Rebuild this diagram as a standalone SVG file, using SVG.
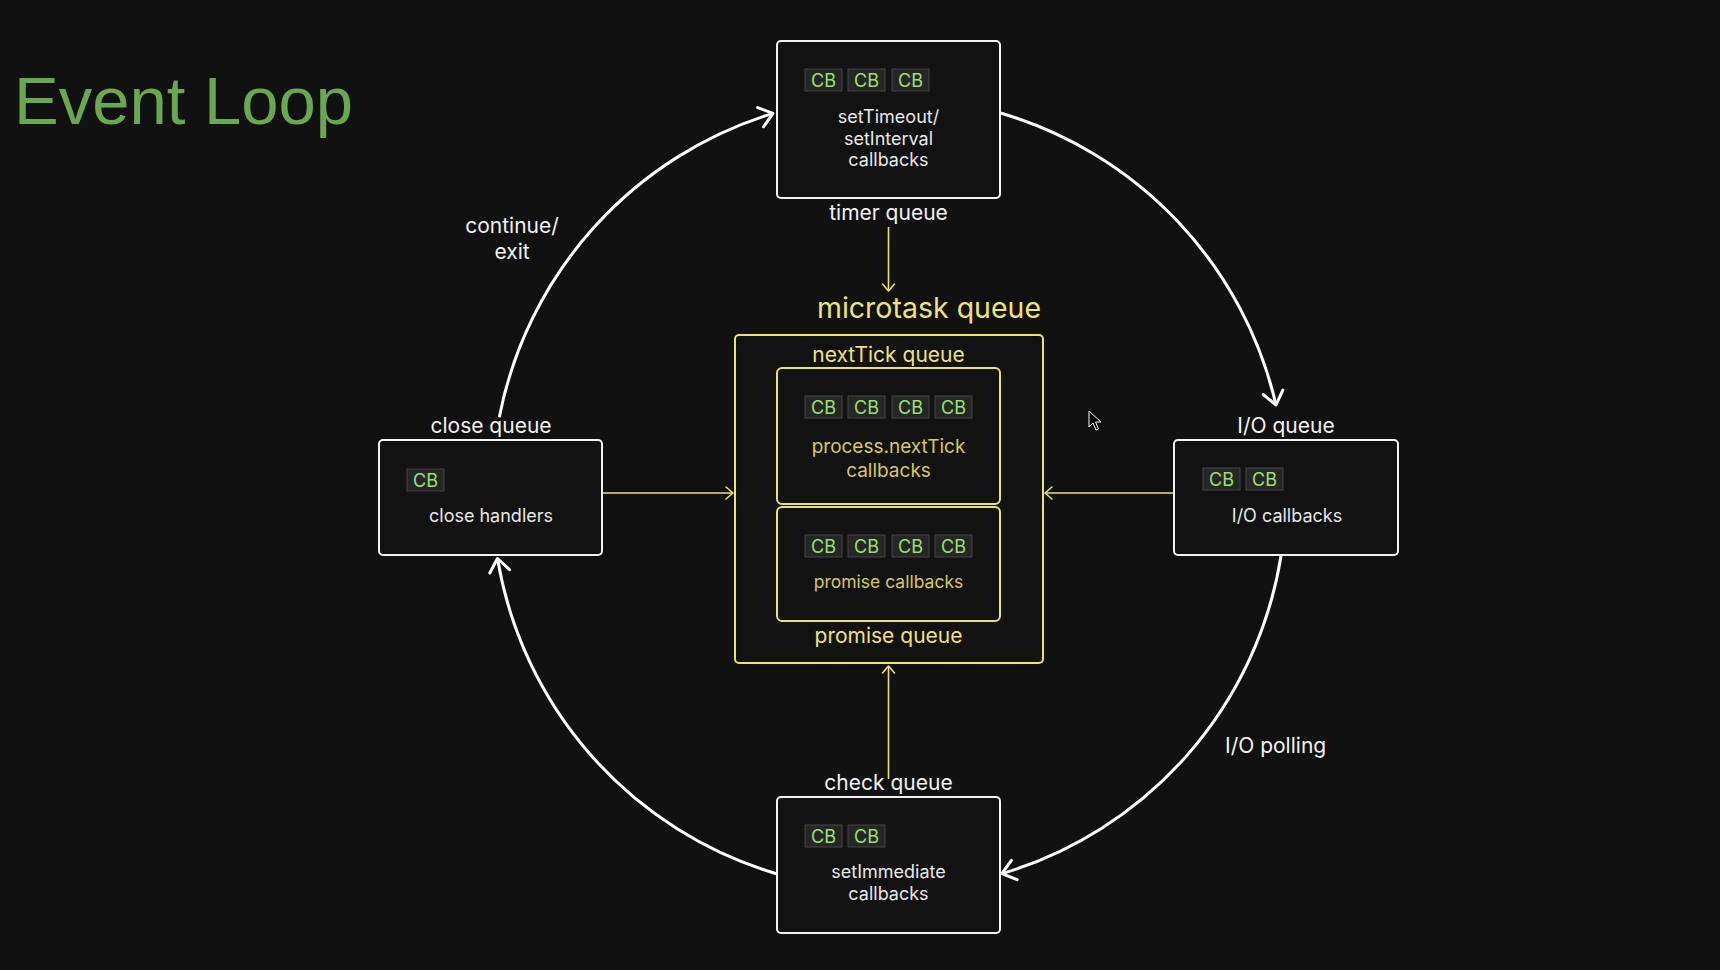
<svg xmlns="http://www.w3.org/2000/svg" width="1720" height="970" viewBox="0 0 1720 970">
<defs>
<style>
.bg{fill:#111111}
.box{fill:#121212;stroke:#f2f2f2;stroke-width:2}
.ybox{fill:#121212;stroke:#ece272;stroke-width:2}
.chip{fill:#262626;stroke:#454545;stroke-width:1}
.cb{font-family:Inter,"Liberation Sans",sans-serif;font-size:18px;fill:#9de06f;text-anchor:middle}
.lbl{font-family:Inter,"Liberation Sans",sans-serif;font-size:21px;fill:#f2f2f2;text-anchor:middle}
.txt{font-family:Inter,"Liberation Sans",sans-serif;font-size:18px;fill:#e8e8e8;text-anchor:middle}
.ylbl{font-family:Inter,"Liberation Sans",sans-serif;font-size:21px;fill:#f0e27a;text-anchor:middle}
.ytxt{font-family:Inter,"Liberation Sans",sans-serif;fill:#d8c85e;text-anchor:middle}
.arc{fill:none;stroke:#ffffff;stroke-width:3}
.yl{fill:none;stroke:#ece272;stroke-width:1.6}
</style>
<marker id="wa" viewBox="-16 -12 18 24" markerWidth="18" markerHeight="24" refX="0" refY="0" orient="auto" markerUnits="userSpaceOnUse">
<path d="M-13,-10 L0,0 L-13,10" fill="none" stroke="#ffffff" stroke-width="3" stroke-linecap="round" stroke-linejoin="round"/>
</marker>
<marker id="ya" viewBox="-10 -8 12 16" markerWidth="12" markerHeight="16" refX="0" refY="0" orient="auto" markerUnits="userSpaceOnUse">
<path d="M-7,-6 L0,0 L-7,6" fill="none" stroke="#ece272" stroke-width="1.6" stroke-linecap="round" stroke-linejoin="round"/>
</marker>
</defs>
<rect class="bg" x="0" y="0" width="1720" height="970"/>
<text x="14" y="124" font-family="Liberation Sans, Arial, sans-serif" font-size="67" fill="#6aa84f">Event Loop</text>

<g id="connectors">
<path class="arc" d="M1000.4,113 A397,397 0 0 1 1276,405" marker-end="url(#wa)"/>
<path class="arc" d="M1281,556 A397,397 0 0 1 1001.8,873.7" marker-end="url(#wa)"/>
<path class="arc" d="M776.2,873.7 A397,397 0 0 1 497.5,558.5" marker-end="url(#wa)"/>
<path class="arc" d="M499.3,417.2 A397,397 0 0 1 773,113.4" marker-end="url(#wa)"/>
<path class="yl" d="M888.5,227 L888.5,291" marker-end="url(#ya)"/>
<path class="yl" d="M602,493 L733,493" marker-end="url(#ya)"/>
<path class="yl" d="M1174,493 L1045,493" marker-end="url(#ya)"/>
<path class="yl" d="M888.5,779 L888.5,666" marker-end="url(#ya)"/>
</g>

<text class="lbl" x="512" y="233">continue/</text>
<text class="lbl" x="512" y="259">exit</text>
<text class="lbl" x="1225" y="753" style="text-anchor:start">I/O polling</text>

<g id="timer">
<rect class="box" x="777" y="41" width="223" height="157" rx="4"/>
<rect class="chip" x="805" y="69" width="37" height="22"/>
<rect class="chip" x="848" y="69" width="37" height="22"/>
<rect class="chip" x="892" y="69" width="37" height="22"/>
<text class="cb" x="823.5" y="87">CB</text>
<text class="cb" x="866.5" y="87">CB</text>
<text class="cb" x="910.5" y="87">CB</text>
<text class="txt" x="888.5" y="123">setTimeout/</text>
<text class="txt" x="888.5" y="145">setInterval</text>
<text class="txt" x="888.5" y="166">callbacks</text>
<text class="lbl" x="888.5" y="220">timer queue</text>
</g>

<g id="microtask">
<text class="ylbl" x="929" y="318" style="font-size:28.5px">microtask queue</text>
<rect class="ybox" x="735" y="335" width="308" height="328" rx="4"/>
<text class="ylbl" x="888.5" y="362">nextTick queue</text>
<text class="ylbl" x="888.5" y="643">promise queue</text>
</g>

<g id="nexttick">
<rect class="ybox" x="777" y="368" width="223" height="136" rx="5"/>
<rect class="chip" x="805" y="396" width="37" height="22"/>
<rect class="chip" x="848" y="396" width="37" height="22"/>
<rect class="chip" x="892" y="396" width="37" height="22"/>
<rect class="chip" x="935" y="396" width="37" height="22"/>
<text class="cb" x="823.5" y="414">CB</text>
<text class="cb" x="866.5" y="414">CB</text>
<text class="cb" x="910.5" y="414">CB</text>
<text class="cb" x="953.5" y="414">CB</text>
<text class="ytxt" x="888.5" y="453" font-size="19">process.nextTick</text>
<text class="ytxt" x="888.5" y="477" font-size="19">callbacks</text>
</g>

<g id="promise">
<rect class="ybox" x="777" y="507" width="223" height="114" rx="5"/>
<rect class="chip" x="805" y="535" width="37" height="22"/>
<rect class="chip" x="848" y="535" width="37" height="22"/>
<rect class="chip" x="892" y="535" width="37" height="22"/>
<rect class="chip" x="935" y="535" width="37" height="22"/>
<text class="cb" x="823.5" y="553">CB</text>
<text class="cb" x="866.5" y="553">CB</text>
<text class="cb" x="910.5" y="553">CB</text>
<text class="cb" x="953.5" y="553">CB</text>
<text class="ytxt" x="888.5" y="588" font-size="17.5">promise callbacks</text>
</g>

<g id="close">
<text class="lbl" x="491" y="433">close queue</text>
<rect class="box" x="379" y="440" width="223" height="115" rx="4"/>
<rect class="chip" x="407" y="469" width="37" height="22"/>
<text class="cb" x="425.5" y="487">CB</text>
<text class="txt" x="491" y="522">close handlers</text>
</g>

<g id="io">
<text class="lbl" x="1286" y="433">I/O queue</text>
<rect class="box" x="1174" y="440" width="224" height="115" rx="4"/>
<rect class="chip" x="1203" y="468" width="37" height="22"/>
<rect class="chip" x="1246" y="468" width="37" height="22"/>
<text class="cb" x="1221.5" y="486">CB</text>
<text class="cb" x="1264.5" y="486">CB</text>
<text class="txt" x="1287" y="522">I/O callbacks</text>
</g>

<g id="check">
<text class="lbl" x="888.5" y="790">check queue</text>
<rect class="box" x="777" y="797" width="223" height="136" rx="4"/>
<rect class="chip" x="805" y="825" width="37" height="22"/>
<rect class="chip" x="848" y="825" width="37" height="22"/>
<text class="cb" x="823.5" y="843">CB</text>
<text class="cb" x="866.5" y="843">CB</text>
<text class="txt" x="888.5" y="878">setImmediate</text>
<text class="txt" x="888.5" y="900">callbacks</text>
</g>

<path d="M1089,411 L1089,427 L1093,423 L1096,430 L1098.5,429 L1095.5,422 L1101,422 Z" fill="#000000" stroke="#ffffff" stroke-width="1"/>
</svg>
